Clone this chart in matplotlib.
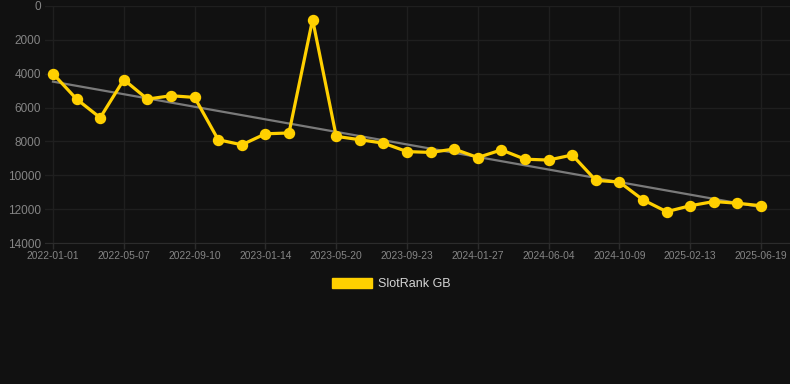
import matplotlib
matplotlib.use("Agg")
import matplotlib.pyplot as plt
from matplotlib.patches import Patch
import numpy as np

dates = ["2022-01-01", "2022-02-12", "2022-03-26", "2022-05-07", "2022-06-18",
         "2022-07-30", "2022-09-10", "2022-10-22", "2022-12-03", "2023-01-14",
         "2023-02-25", "2023-04-08", "2023-05-20", "2023-07-01", "2023-08-12",
         "2023-09-23", "2023-11-04", "2023-12-16", "2024-01-27", "2024-03-09",
         "2024-04-20", "2024-06-04", "2024-07-16", "2024-08-27", "2024-10-09",
         "2024-11-20", "2025-01-01", "2025-02-13", "2025-03-27", "2025-05-08",
         "2025-06-19"]
rank = [4000, 5500, 6600, 4350, 5500, 5300, 5400, 7900, 8200, 7550,
        7500, 800, 7700, 7900, 8100, 8600, 8650, 8450, 8950, 8500,
        9050, 9100, 8800, 10300, 10400, 11450, 12150, 11800, 11550, 11650,
        11800]
series_name = "SlotRank GB"
y_ticks = [0, 2000, 4000, 6000, 8000, 10000, 12000, 14000]

BG = "#111111"
YEL = "#FFD000"
GRID = "#1f1f1f"
TXT = "#858585"

plt.rcParams['font.family'] = ['Liberation Sans', 'DejaVu Sans']

W, H = 790, 384
fig = plt.figure(figsize=(W / 100, H / 100), dpi=100, facecolor=BG)
ax = fig.add_axes([45 / W, (H - 243) / H, 745 / W, 237 / H], facecolor=BG)

x = np.arange(len(rank))
# trend line
coef = np.polyfit(x, rank, 1)
ax.plot(x, np.polyval(coef, x), color="#7a7a7a", lw=1.6, zorder=2)
ax.plot(x, rank, color=YEL, lw=2.3, marker="o", ms=7.2, mfc=YEL, mec=YEL, zorder=3)

step = 23.6
ax.set_xlim(-8 / step, 30 + 29 / step)
ax.set_ylim(14000, 0)
ax.set_yticks(y_ticks)
ax.set_yticklabels([str(v) for v in y_ticks])
ax.set_xticks(x[::3])
ax.set_xticklabels([dates[i] for i in x[::3]])

ax.grid(True, color=GRID, lw=1)
ax.set_axisbelow(True)
for s in ["top", "right", "left"]:
    ax.spines[s].set_visible(False)
ax.spines["bottom"].set_color("#2c2c2c")
ax.tick_params(axis="y", length=0, pad=3, labelsize=8.5, colors=TXT)
ax.tick_params(axis="x", length=4, width=1, color="#2c2c2c", pad=2, labelsize=7.4, colors=TXT)

handle = Patch(facecolor=YEL, edgecolor=YEL)
leg = fig.legend([handle], [series_name], loc="center",
                 bbox_to_anchor=(391 / W, 1 - 284 / H), frameon=False,
                 fontsize=9, handlelength=3.2, handleheight=0.95, handletextpad=0.5,
                 labelcolor="#d4d4d4")

fig.savefig("out.png", dpi=100, facecolor=BG)
